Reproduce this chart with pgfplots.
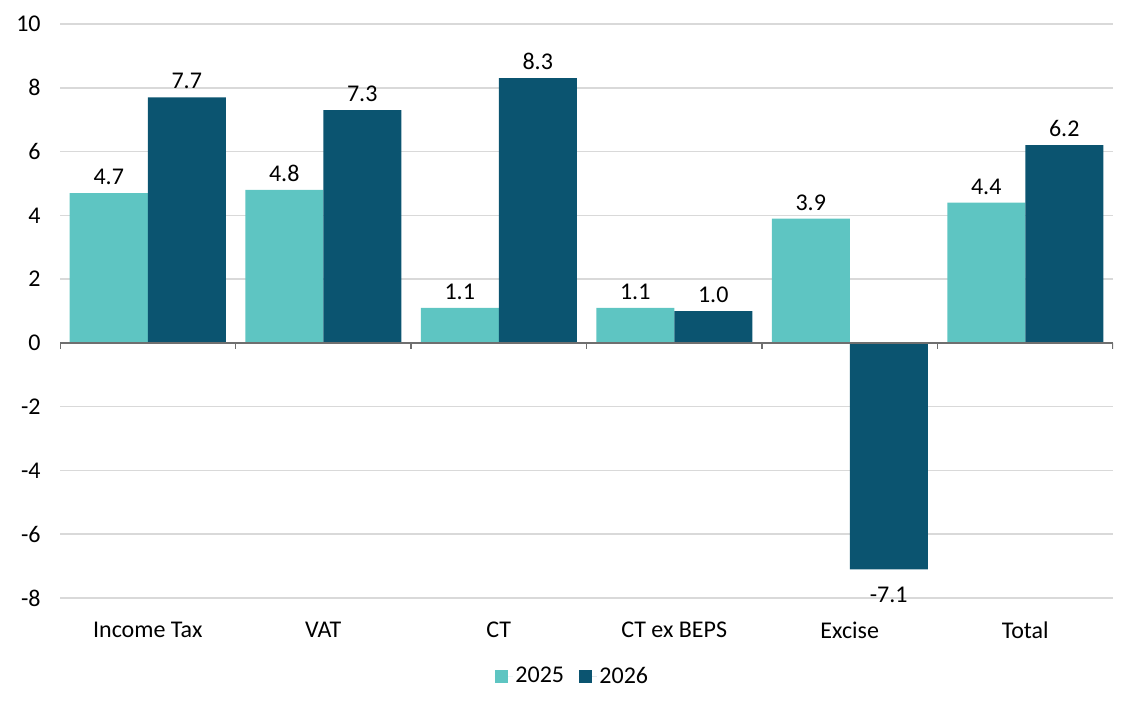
\documentclass[border=0pt]{standalone}
\usepackage{pgfplots}
\pgfplotsset{compat=1.18}
\usepackage{fontspec}
\setmainfont{Carlito}
\definecolor{cA}{HTML}{5EC5C2}
\definecolor{cB}{HTML}{0B5470}
\definecolor{grd}{HTML}{D9D9D9}
\definecolor{axl}{HTML}{6F6F6F}
\newcommand\lblfont{\fontsize{18}{21}\selectfont}
\begin{document}
\begin{tikzpicture}[x=1pt,y=1pt]
\path[use as bounding box] (0,0) rectangle (851.25,531);
\begin{axis}[
  at={(45pt,82.5pt)}, anchor=south west,
  scale only axis, width=789.75pt, height=430.5pt,
  xmin=-0.5, xmax=5.5, ymin=-8, ymax=10,
  ytick={-8,-6,...,10},
  xtick={0,...,5},
  xticklabels={Income Tax,VAT,CT,CT ex BEPS,Excise,Total},
  ybar=0pt, bar width=58.5pt,
  axis line style={draw=none},
  major tick length=0pt,
  ymajorgrids, grid style={grd, line width=1.1pt},
  tick label style={font=\lblfont, text=black},
  /pgf/number format/assume math mode=true,
  yticklabel style={xshift=-11pt},
  xticklabel style={yshift=-14.5pt},
  visualization depends on={y \as \rawy},
  nodes near coords,
  nodes near coords style={font=\lblfont, text=black, inner sep=6pt, yshift={(\rawy<0)*(-7)}, /pgf/number format/.cd, fixed, fixed zerofill, precision=1, assume math mode=true},
  legend style={at={(0.487,-0.136)}, anchor=center, draw=none, legend columns=2, font=\lblfont,
    /tikz/every even column/.style={column sep=9pt}},
  legend image code/.code={\fill[#1] (0pt,-4.9pt) rectangle (9.75pt,4.9pt); \path (0pt,0pt) -- (13.5pt,0pt);},
]
\addplot[fill=cA, draw=none] coordinates {(0,4.7) (1,4.8) (2,1.1) (3,1.1) (4,3.9) (5,4.4)};
\addplot[fill=cB, draw=none] coordinates {(0,7.7) (1,7.3) (2,8.3) (3,1.0) (4,-7.1) (5,6.2)};
\legend{2025,2026}
\draw[axl, line width=1.1pt] (axis cs:-0.5,0) -- (axis cs:5.5,0);
\pgfplotsinvokeforeach{-0.5,0.5,1.5,2.5,3.5,4.5,5.5}{
  \draw[axl, line width=1.1pt] (axis cs:#1,0) -- ([yshift=-4.5pt]axis cs:#1,0);
}
\end{axis}
\end{tikzpicture}
\end{document}
